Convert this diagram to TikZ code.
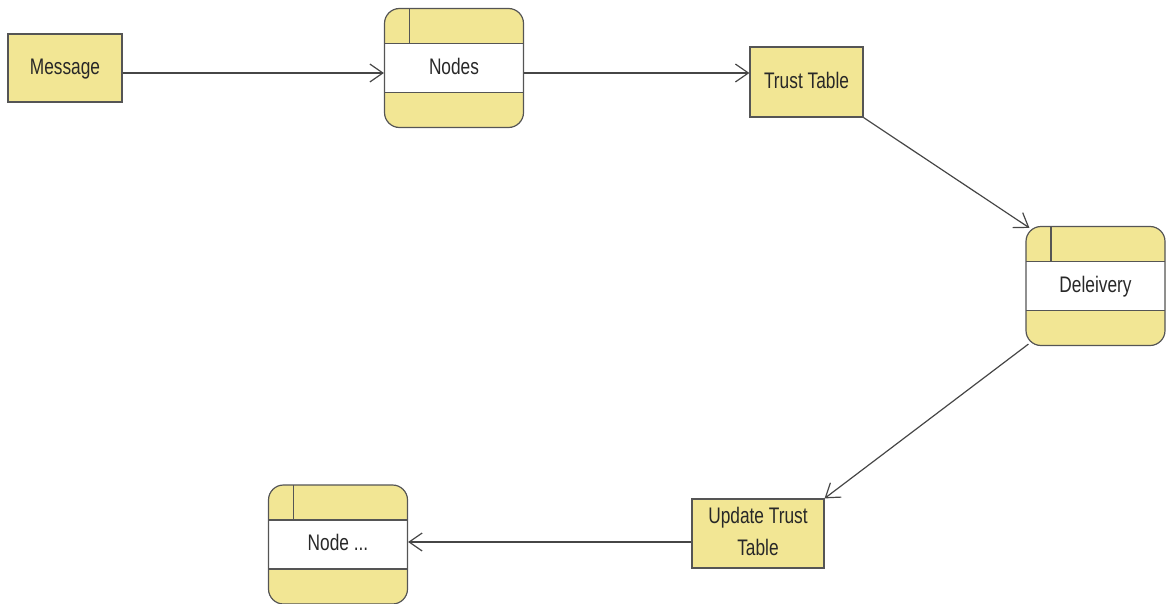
\documentclass[tikz,border=0pt]{standalone}
\usepackage{fontspec}
\setmainfont{Liberation Sans}
\usetikzlibrary{arrows.meta}
\definecolor{yel}{RGB}{242,230,148}
\definecolor{bordercol}{RGB}{85,85,85}
\definecolor{linecol}{RGB}{70,70,70}
\definecolor{txtcol}{RGB}{40,40,40}
\newcommand\lbltext[1]{\scalebox{1}[1.3]{\fontsize{17.3}{24.6}\selectfont\begin{tabular}{@{}c@{}}#1\end{tabular}}}
\begin{document}
\begin{tikzpicture}[x=1pt,y=-1pt,
  entity/.style={rectangle, draw=bordercol, line width=1.2pt, fill=yel, inner sep=0pt},
  store/.style={rectangle, rounded corners=15pt, draw=bordercol, line width=1.2pt, fill=yel,
    minimum width=139pt, minimum height=119pt, inner sep=0pt,
    path picture={
      \fill[white, sharp corners] ([yshift=24.5pt]path picture bounding box.west) rectangle ([yshift=-24.5pt]path picture bounding box.east);
      \draw[bordercol, line width=1.2pt, sharp corners] ([yshift=24.5pt]path picture bounding box.west) -- ([yshift=24.5pt]path picture bounding box.east);
      \draw[bordercol, line width=1.2pt, sharp corners] ([yshift=-24.5pt]path picture bounding box.west) -- ([yshift=-24.5pt]path picture bounding box.east);
      \draw[bordercol, line width=1.2pt, sharp corners] ([xshift=25pt]path picture bounding box.north west) -- ([xshift=25pt,yshift=24.5pt]path picture bounding box.west);
    }},
  lbl/.style={text=txtcol, inner sep=0pt},
  flow/.style={draw=linecol, line width=1.2pt, -{Straight Barb[length=13pt,width=18pt,line width=1.2pt]}}
]
\useasboundingbox (0,0) rectangle (1166,604);

\coordinate (rowa) at (0,73);
\coordinate (rowb) at (0,542);

\node[entity, minimum width=114pt, minimum height=68pt] (msg) at (65,68) {};
\node[lbl] at (msg) {\lbltext{Message}};

\node[store] (nodes) at (454,68) {};
\node[lbl] at (nodes) {\lbltext{Nodes}};

\node[entity, minimum width=113pt, minimum height=70pt] (tt) at (806.5,82) {};
\node[lbl] at (tt) {\lbltext{Trust Table}};

\node[store] (del) at (1095.5,286) {};
\node[lbl] at (del) {\lbltext{Deleivery}};

\node[store] (nd) at (338,544.5) {};
\node[lbl] at (nd) {\lbltext{Node ...}};

\node[entity, minimum width=132pt, minimum height=69pt] (upd) at (758,533.5) {};
\node[lbl] at (upd) {\lbltext{Update Trust\\Table}};

\draw[flow] (msg.east |- rowa) -- (nodes.west |- rowa);
\draw[flow] (nodes.east |- rowa) -- (tt.west |- rowa);
\draw[flow] (tt.south east) -- ([xshift=4pt,yshift=-2pt]del.north west);
\draw[flow] ([xshift=3pt,yshift=2pt]del.south west) -- (upd.north east);
\draw[flow] (upd.west |- rowb) -- (nd.east |- rowb);
\end{tikzpicture}
\end{document}
